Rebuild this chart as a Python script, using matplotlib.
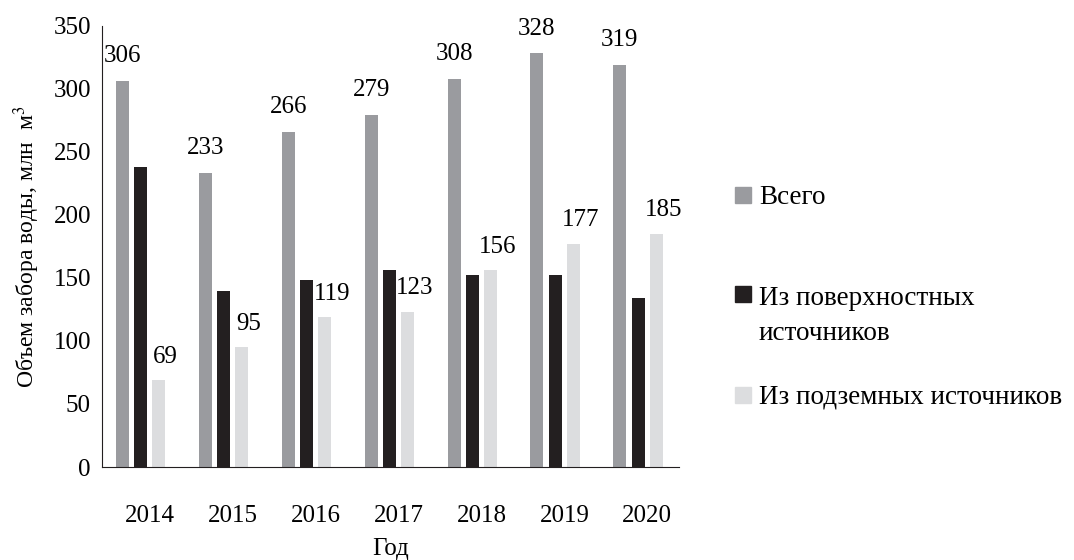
import matplotlib.pyplot as plt
from matplotlib.patches import Rectangle
import numpy as np

years = ["2014", "2015", "2016", "2017", "2018", "2019", "2020"]
total = [306, 233, 266, 279, 308, 328, 319]
surface = [238, 140, 148, 156, 152, 152, 134]
ground = [69, 95, 119, 123, 156, 177, 185]

names = ["Всего", "Из поверхностных\nисточников", "Из подземных источников"]
colors = ["#9a9b9f", "#231f20", "#dcdddf"]

plt.rcParams["font.family"] = ["Liberation Serif", "DejaVu Serif"]
plt.rcParams["mathtext.fontset"] = "stix"

fig = plt.figure(figsize=(10.74, 5.6), dpi=100)
ax = fig.add_axes([0.095, 0.166, 0.537, 0.788])

x = np.arange(len(years))
w = 0.156
step = 0.22
series = [total, surface, ground]
for k, vals in enumerate(series):
    pos = x + (k - 1.5) * step
    ax.bar(pos, vals, width=w, color=colors[k])

# value labels over the total and groundwater bars
for i in range(len(years)):
    ax.annotate(str(total[i]), (x[i] - 1.5 * step, total[i]), xytext=(0, 10),
                textcoords="offset points", ha="center", va="bottom", fontsize=18)
    ax.annotate(str(ground[i]), (x[i] + 0.5 * step, ground[i]), xytext=(5, 9),
                textcoords="offset points", ha="center", va="bottom", fontsize=18)

ax.set_xlim(-0.575, 6.38)
ax.set_ylim(0, 350)
ax.set_yticks(range(0, 351, 50))
ax.set_xticks(x)
ax.set_xticklabels(years)
ax.tick_params(axis="both", length=0, labelsize=18)
ax.tick_params(axis="x", pad=27)
ax.tick_params(axis="y", pad=8)
ax.spines["top"].set_visible(False)
ax.spines["right"].set_visible(False)
ax.spines["left"].set_color("#231f20")
ax.spines["bottom"].set_color("#231f20")
ax.set_xlabel("Год", fontsize=18, labelpad=8)
ax.set_ylabel("Объем забора воды, млн  м$^3$", fontsize=17, labelpad=8)

# legend drawn by hand so the entries sit where they should
sq_y = [195, 294, 395]
txt_y = [197, 286, 397]
for k in range(3):
    yf = 1 - sq_y[k] / 560
    fig.add_artist(Rectangle((735 / 1074, yf - 8 / 560), 16 / 1074, 16 / 560,
                             transform=fig.transFigure, color=colors[k]))
    fig.text(759 / 1074, 1 - txt_y[k] / 560, names[k], fontsize=19.5,
             va="top" if k == 1 else "center", linespacing=1.5)

fig.savefig("out.png")
